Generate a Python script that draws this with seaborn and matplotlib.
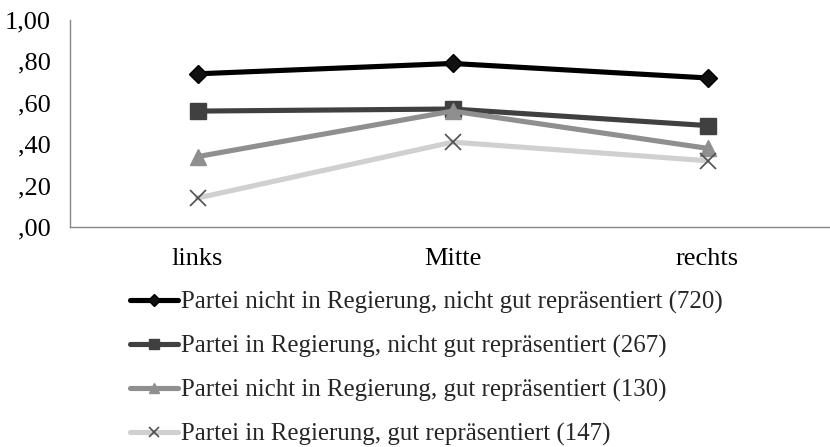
import matplotlib
matplotlib.use("Agg")
import matplotlib.pyplot as plt
import seaborn as sns
import pandas as pd

categories = ["links", "Mitte", "rechts"]
series_names = [
    "Partei nicht in Regierung, nicht gut repräsentiert (720)",
    "Partei in Regierung, nicht gut repräsentiert (267)",
    "Partei nicht in Regierung, gut repräsentiert (130)",
    "Partei in Regierung, gut repräsentiert (147)",
]
s1 = [0.74, 0.79, 0.72]
s2 = [0.56, 0.57, 0.49]
s3 = [0.34, 0.56, 0.38]
s4 = [0.14, 0.41, 0.32]
yticks = [0.0, 0.2, 0.4, 0.6, 0.8, 1.0]
yticklabels = [",00", ",20", ",40", ",60", ",80", "1,00"]

sns.set_style("white")
plt.rcParams["font.family"] = ["Liberation Serif", "DejaVu Serif"]

rows = []
for name, vals in zip(series_names, [s1, s2, s3, s4]):
    for c, v in zip(categories, vals):
        rows.append({"cat": c, "val": v, "series": name})
df = pd.DataFrame(rows)

fig = plt.figure(figsize=(8.3, 4.47), dpi=100)
ax = fig.add_axes([70/830, 1-227/447, 1-70/830, (227-20)/447])

styles = [
    dict(color="#000000", marker="D", ms=9.5, mfc="#111111", mec="#000000", mew=1),
    dict(color="#404040", marker="s", ms=12, mfc="#404040", mec="#404040", mew=1),
    dict(color="#8f8f8f", marker="^", ms=12, mfc="#8f8f8f", mec="#8f8f8f", mew=1),
    dict(color="#d0d0d0", marker="x", ms=11, mfc="none", mec="#505050", mew=1.2),
]
for name, st in zip(series_names, styles):
    sub = df[df["series"] == name]
    sns.lineplot(data=sub, x="cat", y="val", ax=ax, label=name,
                 color=st["color"], linewidth=3.7, marker=st["marker"],
                 markersize=st["ms"], markerfacecolor=st["mfc"],
                 markeredgecolor=st["mec"], markeredgewidth=st["mew"],
                 sort=False)

ax.set_xlim(-0.5, 2.48)
ax.set_ylim(0, 1.0)
ax.set_yticks(yticks)
ax.set_yticklabels(yticklabels)
ax.set_xlabel("")
ax.set_ylabel("")
ax.tick_params(axis="both", length=0, labelsize=19, colors="#000000")
ax.tick_params(axis="x", pad=15)
ax.tick_params(axis="y", pad=14)
for s in ["top", "right"]:
    ax.spines[s].set_visible(False)
for s in ["left", "bottom"]:
    ax.spines[s].set_color("#868686")
    ax.spines[s].set_linewidth(1.0)
ax.grid(False)

leg = ax.legend(loc="upper left", bbox_to_anchor=(130/830, 1-291/447),
                bbox_transform=fig.transFigure, frameon=False,
                fontsize=17.9, handlelength=1.95, handletextpad=0.1,
                labelspacing=0.84, borderaxespad=0, borderpad=0,
                markerscale=0.65)

fig.savefig("out.png", dpi=100)
